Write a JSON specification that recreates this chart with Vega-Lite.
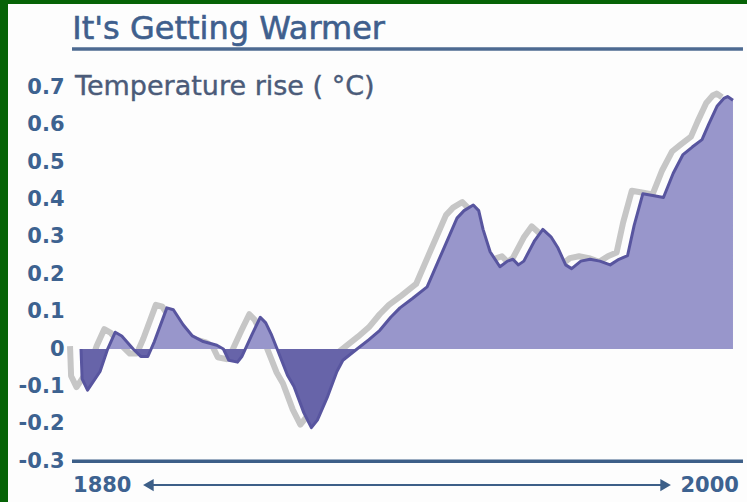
{
  "$schema": "https://vega.github.io/schema/vega-lite/v6.json",
  "width": 739,
  "height": 498,
  "autosize": {"type": "none"},
  "padding": {"left": 8, "top": 4, "right": 0, "bottom": 0},
  "background": "#066306",
  "config": {"view": {"stroke": null, "fill": "#fdfdfd"}, "font": "DejaVu Sans"},
  "resolve": {"axis": {"x": "independent", "y": "independent"}},
  "datasets": {
    "temp": [
      {"year": 1880.0, "anomaly": 0.0},
      {"year": 1880.2, "anomaly": -0.08},
      {"year": 1881.2, "anomaly": -0.11},
      {"year": 1883.5, "anomaly": -0.06},
      {"year": 1884.9, "anomaly": 0.0},
      {"year": 1886.3, "anomaly": 0.045},
      {"year": 1887.5, "anomaly": 0.035},
      {"year": 1889.6, "anomaly": 0.0},
      {"year": 1891.0, "anomaly": -0.02},
      {"year": 1892.3, "anomaly": -0.02},
      {"year": 1893.5, "anomaly": 0.02},
      {"year": 1895.8, "anomaly": 0.11},
      {"year": 1897.0, "anomaly": 0.105},
      {"year": 1898.8, "anomaly": 0.065},
      {"year": 1900.5, "anomaly": 0.035},
      {"year": 1902.5, "anomaly": 0.02},
      {"year": 1905.0, "anomaly": 0.01},
      {"year": 1906.2, "anomaly": 0.0},
      {"year": 1907.2, "anomaly": -0.03},
      {"year": 1908.8, "anomaly": -0.035},
      {"year": 1909.6, "anomaly": -0.02},
      {"year": 1911.5, "anomaly": 0.04},
      {"year": 1913.0, "anomaly": 0.085},
      {"year": 1914.0, "anomaly": 0.07},
      {"year": 1915.0, "anomaly": 0.04},
      {"year": 1916.1, "anomaly": 0.0},
      {"year": 1918.0, "anomaly": -0.07},
      {"year": 1919.2, "anomaly": -0.1},
      {"year": 1921.0, "anomaly": -0.17},
      {"year": 1922.4, "anomaly": -0.21},
      {"year": 1923.5, "anomaly": -0.19},
      {"year": 1925.3, "anomaly": -0.13},
      {"year": 1927.1, "anomaly": -0.06},
      {"year": 1928.2, "anomaly": -0.03},
      {"year": 1930.8, "anomaly": 0.0},
      {"year": 1933.0, "anomaly": 0.025},
      {"year": 1935.0, "anomaly": 0.05},
      {"year": 1937.0, "anomaly": 0.085},
      {"year": 1938.7, "anomaly": 0.11},
      {"year": 1941.0, "anomaly": 0.135},
      {"year": 1943.7, "anomaly": 0.166},
      {"year": 1946.5, "anomaly": 0.26},
      {"year": 1949.2, "anomaly": 0.35},
      {"year": 1950.5, "anomaly": 0.37},
      {"year": 1952.2, "anomaly": 0.385},
      {"year": 1953.2, "anomaly": 0.37},
      {"year": 1954.0, "anomaly": 0.32},
      {"year": 1955.3, "anomaly": 0.26},
      {"year": 1957.1, "anomaly": 0.22},
      {"year": 1958.5, "anomaly": 0.235},
      {"year": 1959.5, "anomaly": 0.24},
      {"year": 1960.5, "anomaly": 0.225},
      {"year": 1961.5, "anomaly": 0.235},
      {"year": 1963.5, "anomaly": 0.29},
      {"year": 1965.0, "anomaly": 0.32},
      {"year": 1966.5, "anomaly": 0.3},
      {"year": 1967.8, "anomaly": 0.27},
      {"year": 1969.2, "anomaly": 0.225},
      {"year": 1970.3, "anomaly": 0.215},
      {"year": 1972.0, "anomaly": 0.235},
      {"year": 1973.7, "anomaly": 0.24},
      {"year": 1975.5, "anomaly": 0.235},
      {"year": 1977.4, "anomaly": 0.225},
      {"year": 1979.0, "anomaly": 0.24},
      {"year": 1980.6, "anomaly": 0.25},
      {"year": 1981.8, "anomaly": 0.33},
      {"year": 1983.4, "anomaly": 0.415},
      {"year": 1985.5, "anomaly": 0.41},
      {"year": 1987.2, "anomaly": 0.405},
      {"year": 1989.0, "anomaly": 0.47},
      {"year": 1990.8, "anomaly": 0.52},
      {"year": 1992.5, "anomaly": 0.54},
      {"year": 1994.3, "anomaly": 0.56},
      {"year": 1995.5, "anomaly": 0.6},
      {"year": 1997.1, "anomaly": 0.65},
      {"year": 1998.3, "anomaly": 0.67},
      {"year": 1999.0, "anomaly": 0.675},
      {"year": 2000.0, "anomaly": 0.665}
    ]
  },
  "layer": [
    {
      "data": {"name": "temp"},
      "mark": {"type": "line", "color": "#c6c6c6", "strokeWidth": 6, "xOffset": -11, "yOffset": -3, "strokeJoin": "round"},
      "encoding": {
        "x": {"field": "year", "type": "quantitative", "scale": {"domain": [1866.56, 2002.58], "nice": false, "zero": false}, "axis": null},
        "y": {
          "field": "anomaly", "type": "quantitative",
          "scale": {"domain": [-0.409, 0.9225], "nice": false, "zero": false},
          "axis": {
            "orient": "left", "offset": -58, "domain": false, "ticks": false, "grid": false, "title": null, "zindex": 1,
            "values": [-0.3, -0.2, -0.1, 0, 0.1, 0.2, 0.3, 0.4, 0.5, 0.6, 0.7],
            "labelExpr": "datum.value == 0 ? '0' : (datum.value < 0 ? '-' + format(-datum.value, '.1f') : format(datum.value, '.1f'))",
            "labelFont": "DejaVu Sans", "labelFontWeight": "bold", "labelFontSize": 21, "labelColor": "#3d6290",
            "labelPadding": 2, "labelFlush": false, "labelOverlap": false
          }
        }
      }
    },
    {
      "data": {"name": "temp"},
      "mark": {
        "type": "area",
        "color": {
          "gradient": "linear",
          "x1": 0, "y1": 0, "x2": 0, "y2": 1,
          "stops": [
            {"offset": 0, "color": "#9896cb"},
            {"offset": 0.7627, "color": "#9896cb"},
            {"offset": 0.7627, "color": "#6764a9"},
            {"offset": 1, "color": "#6764a9"}
          ]
        }
      },
      "encoding": {
        "x": {"field": "year", "type": "quantitative", "axis": null},
        "y": {"field": "anomaly", "type": "quantitative", "axis": null},
        "y2": {"datum": 0}
      }
    },
    {
      "data": {"name": "temp"},
      "mark": {"type": "line", "color": "#58559f", "strokeWidth": 3, "strokeJoin": "round"},
      "encoding": {
        "x": {"field": "year", "type": "quantitative", "axis": null},
        "y": {"field": "anomaly", "type": "quantitative", "axis": null}
      }
    },
    {
      "data": {"values": [{"t": "It's Getting Warmer"}]},
      "mark": {"type": "text", "align": "left", "baseline": "alphabetic", "fontSize": 32, "font": "DejaVu Sans", "color": "#3f5f8d", "stroke": "#3f5f8d", "strokeWidth": 0.6},
      "encoding": {
        "x": {"datum": 1878.4, "type": "quantitative", "axis": null},
        "y": {"datum": 0.8289, "type": "quantitative", "axis": null},
        "text": {"field": "t"}
      }
    },
    {
      "data": {"values": [{"t": "Temperature rise ( °C)"}]},
      "mark": {"type": "text", "align": "left", "baseline": "alphabetic", "fontSize": 27, "font": "DejaVu Sans", "color": "#4b5b79", "stroke": "#4b5b79", "strokeWidth": 0.4},
      "encoding": {
        "x": {"datum": 1878.9, "type": "quantitative", "axis": null},
        "y": {"datum": 0.679, "type": "quantitative", "axis": null},
        "text": {"field": "t"}
      }
    },
    {
      "data": {"values": [{"t": "1880"}]},
      "mark": {"type": "text", "align": "left", "baseline": "alphabetic", "fontSize": 21, "fontWeight": "bold", "font": "DejaVu Sans", "color": "#3d6290"},
      "encoding": {
        "x": {"datum": 1878.53, "type": "quantitative", "axis": null},
        "y": {"datum": -0.3824, "type": "quantitative", "axis": null},
        "text": {"field": "t"}
      }
    },
    {
      "data": {"values": [{"t": "2000"}]},
      "mark": {"type": "text", "align": "right", "baseline": "alphabetic", "fontSize": 21, "fontWeight": "bold", "font": "DejaVu Sans", "color": "#3d6290"},
      "encoding": {
        "x": {"datum": 2001.1, "type": "quantitative", "axis": null},
        "y": {"datum": -0.3824, "type": "quantitative", "axis": null},
        "text": {"field": "t"}
      }
    },
    {
      "data": {"values": [{}]},
      "mark": {"type": "rule", "strokeWidth": 3.5, "color": "#4d6a91"},
      "encoding": {
        "x": {"datum": 1878.34, "type": "quantitative", "axis": null},
        "x2": {"datum": 2001.84},
        "y": {"datum": 0.802, "type": "quantitative", "axis": null}
      }
    },
    {
      "data": {"values": [{}]},
      "mark": {"type": "rule", "strokeWidth": 3.5, "color": "#3d5f88"},
      "encoding": {
        "x": {"datum": 1878.34, "type": "quantitative", "axis": null},
        "x2": {"datum": 2001.84},
        "y": {"datum": -0.3, "type": "quantitative", "axis": null}
      }
    },
    {
      "data": {"values": [{}]},
      "mark": {"type": "rule", "strokeWidth": 2, "color": "#3d5f88"},
      "encoding": {
        "x": {"datum": 1892.4, "type": "quantitative", "axis": null},
        "x2": {"datum": 1987.6},
        "y": {"datum": -0.3636, "type": "quantitative", "axis": null}
      }
    },
    {
      "data": {"values": [{}]},
      "mark": {"type": "point", "shape": "triangle-left", "filled": true, "size": 150, "opacity": 1, "color": "#3d5f88"},
      "encoding": {
        "x": {"datum": 1892.4, "type": "quantitative", "axis": null},
        "y": {"datum": -0.3636, "type": "quantitative", "axis": null}
      }
    },
    {
      "data": {"values": [{}]},
      "mark": {"type": "point", "shape": "triangle-right", "filled": true, "size": 150, "opacity": 1, "color": "#3d5f88"},
      "encoding": {
        "x": {"datum": 1987.6, "type": "quantitative", "axis": null},
        "y": {"datum": -0.3636, "type": "quantitative", "axis": null}
      }
    }
  ]
}
